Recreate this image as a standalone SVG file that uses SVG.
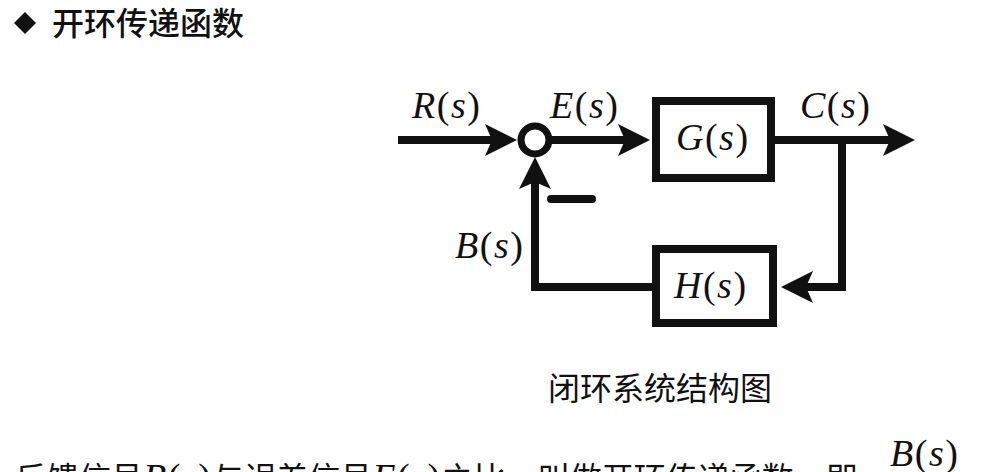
<svg xmlns="http://www.w3.org/2000/svg" width="1001" height="472" viewBox="0 0 1001 472">
<style>
.cjk{font-family:"Noto Sans CJK SC","Noto Sans",sans-serif;fill:#111}
.m{font-family:"Liberation Serif","DejaVu Serif",serif;font-size:38px;fill:#111;letter-spacing:1.5px}
.i{font-style:italic}
.ln{fill:none;stroke:#111;stroke-width:8;stroke-linejoin:miter;stroke-linecap:butt}
.box{fill:#fff;stroke:#111;stroke-width:8}
</style>
<defs>
<marker id="ah" viewBox="0 0 32 32" refX="12" refY="16" markerWidth="32" markerHeight="32" markerUnits="userSpaceOnUse" orient="auto">
<path d="M0,0 L32,16 L0,32 L7,16 Z" fill="#111"/>
</marker>
</defs>
<rect width="1001" height="472" fill="#fff"/>
<g id="title">
<polygon points="25,12 36,23 25,34 14,23" fill="#111"/>
<text class="cjk" x="52" y="35" font-size="32" font-weight="500">开环传递函数</text>
</g>
<g id="connectors">
<path class="ln" d="M398,140 H497" marker-end="url(#ah)"/>
<path class="ln" d="M552,140 H630" marker-end="url(#ah)"/>
<path class="ln" d="M775,140 H895" marker-end="url(#ah)"/>
<path class="ln" d="M842,140 V287 H801" marker-end="url(#ah)"/>
<path class="ln" d="M656,287 H535 V177" marker-end="url(#ah)"/>
</g>
<g id="sum">
<circle cx="535" cy="140" r="14" fill="#fff" stroke="#111" stroke-width="7"/>
<line x1="551" y1="199" x2="592" y2="199" stroke="#111" stroke-width="8" stroke-linecap="round"/>
</g>
<g id="G">
<rect class="box" x="656" y="101" width="115" height="77"/>
<text class="m" x="676" y="150"><tspan class="i">G</tspan>(<tspan class="i">s</tspan>)</text>
</g>
<g id="H">
<rect class="box" x="656" y="249" width="117" height="74"/>
<text class="m" x="674" y="298"><tspan class="i">H</tspan>(<tspan class="i">s</tspan>)</text>
</g>
<g id="labels">
<text class="m" x="412" y="118"><tspan class="i">R</tspan>(<tspan class="i">s</tspan>)</text>
<text class="m" x="550" y="118"><tspan class="i">E</tspan>(<tspan class="i">s</tspan>)</text>
<text class="m" x="800" y="118"><tspan class="i">C</tspan>(<tspan class="i">s</tspan>)</text>
<text class="m" x="455" y="258"><tspan class="i">B</tspan>(<tspan class="i">s</tspan>)</text>
</g>
<text class="cjk" x="548" y="400" font-size="32">闭环系统结构图</text>
<text class="cjk" x="15" y="490" font-size="32">反馈信号<tspan class="m i" font-size="38">B</tspan><tspan class="m" font-size="38">(</tspan><tspan class="m i" font-size="38">s</tspan><tspan class="m" font-size="38">)</tspan>与误差信号<tspan class="m i" font-size="38">E</tspan><tspan class="m" font-size="38">(</tspan><tspan class="m i" font-size="38">s</tspan><tspan class="m" font-size="38">)</tspan>之比，叫做开环传递函数，即</text>
<text class="m" x="890" y="466" font-size="40"><tspan class="i">B</tspan>(<tspan class="i">s</tspan>)</text>
</svg>
